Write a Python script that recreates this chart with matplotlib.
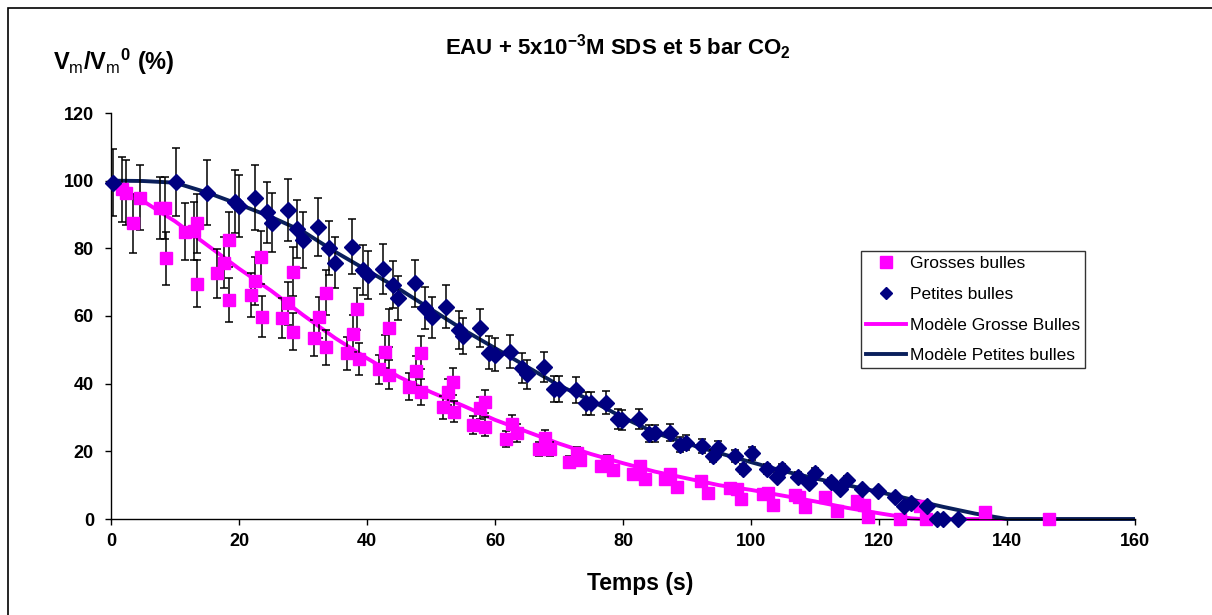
import matplotlib
matplotlib.use("Agg")
import matplotlib.pyplot as plt
from matplotlib.patches import Rectangle
from matplotlib.lines import Line2D
import numpy as np

plt.rcParams['font.family'] = ['Liberation Sans', 'DejaVu Sans']
plt.rcParams['mathtext.fontset'] = 'custom'
plt.rcParams['mathtext.rm'] = 'Liberation Sans'
plt.rcParams['mathtext.bf'] = 'Liberation Sans:bold'
plt.rcParams['mathtext.it'] = 'Liberation Sans:italic'

# ---------------- data ----------------
grosses_t = [1.7, 2.4, 3.5, 4.6, 7.6, 8.4, 8.6, 11.6, 12.9, 13.4, 13.4, 16.6, 17.7, 18.5, 18.5,
             21.8, 22.5, 23.4, 23.6, 26.7, 27.7, 28.5, 28.5, 31.7, 32.5, 33.6, 33.6, 36.8, 37.8,
             38.4, 38.7, 41.8, 42.8, 43.5, 43.5, 46.6, 47.6, 48.5, 48.5, 51.8, 52.7, 53.4, 53.6,
             56.6, 57.7, 58.4, 58.4, 61.7, 62.6, 63.4, 66.8, 67.8, 68.6, 71.6, 72.8, 73.3,
             76.6, 77.5, 78.5, 81.5, 82.7, 83.4, 86.6, 87.3, 88.4, 92.2, 93.3, 96.7, 97.8, 98.5,
             101.9, 102.7, 103.5, 106.8, 107.5, 108.4, 111.6, 113.4, 116.5, 117.6, 118.3,
             123.3, 126.4, 127.4, 136.6, 146.6]
grosses_v = [97.4, 96.5, 87.4, 95.0, 91.8, 91.8, 77.0, 84.9, 85.2, 87.4, 69.5, 72.6, 75.8, 82.6, 64.7,
             66.2, 70.4, 77.3, 59.8, 59.3, 63.7, 73.1, 55.4, 53.4, 59.6, 66.9, 50.7, 49.0, 54.7,
             62.0, 47.2, 44.2, 49.5, 56.4, 42.6, 39.1, 43.8, 49.2, 37.6, 33.0, 37.6, 40.6, 31.7,
             27.8, 32.7, 34.7, 27.3, 23.7, 28.0, 25.4, 20.6, 23.8, 20.6, 16.8, 19.4, 17.4,
             15.6, 17.2, 14.5, 13.4, 15.6, 11.9, 11.8, 13.3, 9.4, 11.2, 7.7, 9.2, 9.0, 6.0,
             7.5, 7.6, 4.1, 7.0, 6.6, 3.4, 6.4, 2.5, 5.4, 4.1, 0.5,
             0.0, 3.7, 0.0, 2.2, 0.0]

petites_t = [0.3, 10.2, 15.0, 19.4, 20.0, 22.5, 24.3, 25.1, 27.7, 29.0, 30.0, 32.4, 34.1, 35.0,
             37.6, 39.3, 40.2, 42.5, 44.1, 44.9, 47.5, 49.0, 50.1, 52.4, 54.3, 55.0, 57.7, 59.0,
             60.0, 62.4, 64.2, 65.0, 67.7, 69.2, 70.0, 72.7, 74.2, 75.0, 77.3, 79.2, 79.9, 82.5,
             84.0, 85.0, 87.3, 88.9, 89.8, 92.4, 94.1, 94.9, 97.5, 98.8, 100.1, 102.5, 104.0,
             104.8, 107.4, 109.1, 110.0, 112.5, 113.9, 115.0, 117.3, 119.9, 122.5, 123.9, 125.0,
             127.5, 129.0, 130.0, 132.4]
petites_v = [99.4, 99.6, 96.5, 93.8, 92.5, 95.0, 90.6, 87.6, 91.4, 85.8, 82.5, 86.3, 80.0, 75.8,
             80.5, 73.6, 72.1, 74.0, 69.3, 65.2, 69.7, 62.3, 59.6, 62.8, 55.9, 54.1, 56.4, 49.1,
             48.5, 49.5, 44.5, 42.8, 45.0, 38.3, 38.3, 38.1, 34.2, 34.2, 34.4, 29.5, 29.2, 29.5,
             25.2, 25.3, 25.5, 21.9, 22.6, 21.6, 18.6, 20.9, 18.6, 14.7, 19.4, 14.9, 12.5,
             14.7, 12.5, 10.7, 13.7, 11.0, 8.8, 11.5, 8.8, 8.4, 6.4, 3.8, 4.8,
             3.8, 0.0, 0.0, 0.0]

modele_g_t = [1.0, 5, 10, 15, 20, 25, 30, 35, 40, 45, 50, 55, 60, 65, 70, 75, 80, 85, 90, 95,
              100, 105, 110, 115, 120, 125, 126.5, 140]
modele_g_v = [98.5, 94.0, 88.0, 81.0, 74.0, 67.5, 60.3, 53.5, 47.5, 42.0, 37.5, 33.5, 29.3, 25.8,
              22.3, 19.2, 16.5, 14.0, 12.0, 10.0, 8.6, 6.9, 5.2, 3.3, 1.7, 0.2, 0.0, 0.0]

modele_p_t = [0, 5, 10, 15, 20, 25, 30, 35, 40, 45, 50, 55, 60, 65, 70, 75, 80, 85, 90, 95, 100,
              105, 110, 115, 120, 125, 130, 135, 140, 160]
modele_p_v = [100.0, 99.9, 99.4, 96.5, 93.0, 89.3, 85.0, 79.0, 73.5, 68.0, 62.0, 56.0, 50.5, 45.0,
              39.5, 35.0, 30.0, 25.5, 22.3, 19.5, 16.8, 14.2, 12.0, 10.0, 8.0, 5.8, 3.6, 1.6, 0.0, 0.0]

ERR_PCT = 10  # percentage error bars (chart setting)

x_ticks = list(range(0, 161, 20))
y_ticks = list(range(0, 121, 20))
legend_labels = ['Grosses bulles', 'Petites bulles', 'Modèle Grosse Bulles', 'Modèle Petites bulles']

MAGENTA = '#FF00FF'
NAVY_PT = '#000080'
NAVY_LN = '#0A1F5C'

# ---------------- figure ----------------
W, H = 1212, 615
fig = plt.figure(figsize=(W / 100, H / 100), dpi=100)
ax = fig.add_axes([111 / W, 1 - 519 / H, 1024 / W, 406 / H])

gt = np.array(grosses_t); gv = np.array(grosses_v)
pt = np.array(petites_t); pv = np.array(petites_v)

ax.plot(modele_g_t, modele_g_v, color=MAGENTA, lw=2.8, zorder=2, clip_on=False,
        solid_capstyle='butt')
ax.plot(modele_p_t, modele_p_v, color=NAVY_LN, lw=2.8, zorder=2, clip_on=False,
        solid_capstyle='butt')

ax.errorbar(gt, gv, yerr=gv * ERR_PCT / 100, fmt='none', ecolor='black', elinewidth=1.1,
            capsize=3, capthick=1.1, zorder=3)
ax.errorbar(pt, pv, yerr=pv * ERR_PCT / 100, fmt='none', ecolor='black', elinewidth=1.1,
            capsize=3, capthick=1.1, zorder=3)

ax.plot(gt, gv, 's', color=MAGENTA, ms=8.8, mec=MAGENTA, zorder=4, clip_on=False)
ax.plot(pt, pv, 'D', color=NAVY_PT, ms=7.8, mec=NAVY_PT, zorder=5, clip_on=False)

ax.set_xlim(0, 160)
ax.set_ylim(0, 120)
ax.set_xticks(x_ticks)
ax.set_yticks(y_ticks)
ax.set_xticklabels([str(v) for v in x_ticks])
ax.set_yticklabels([str(v) for v in y_ticks])
for s in ['top', 'right']:
    ax.spines[s].set_visible(False)
for s in ['left', 'bottom']:
    ax.spines[s].set_linewidth(1.0)
ax.tick_params(direction='out', length=4.3, width=1.0, labelsize=13)
ax.tick_params(axis='x', pad=6)
ax.tick_params(axis='y', pad=8)
for lab in ax.get_xticklabels() + ax.get_yticklabels():
    lab.set_fontweight('bold')

# legend
handles = [Line2D([], [], ls='none', marker='s', color=MAGENTA, ms=8.5),
           Line2D([], [], ls='none', marker='D', color=NAVY_PT, ms=6.5),
           Line2D([], [], color=MAGENTA, lw=2.8),
           Line2D([], [], color=NAVY_LN, lw=2.8)]
leg = ax.legend(handles, legend_labels, loc='upper left', bbox_to_anchor=(0.7324, 0.660),
                fontsize=12.5, frameon=True, fancybox=False, edgecolor='black',
                handlelength=2.3, handletextpad=0.25, labelspacing=0.9, borderpad=0.28,
                borderaxespad=0)
leg.get_frame().set_linewidth(1.0)

# texts
fig.text(618 / W, 1 - 55 / H, 'EAU + 5x10$^{\\mathbf{-3}}$M SDS et 5 bar CO$_{\\mathbf{2}}$',
         ha='center', va='baseline', fontsize=16, fontweight='bold')
fig.text(53 / W, 1 - 70 / H, 'V$_{\\mathrm{m}}$/V$_{\\mathrm{m}}$$^{\\mathbf{0}}$ (%)',
         ha='left', va='baseline', fontsize=17, fontweight='bold')
fig.text(640 / W, 1 - 590 / H, 'Temps (s)', ha='center', va='baseline',
         fontsize=16.5, fontweight='bold')

# outer border
fig.patches.append(Rectangle((8 / W, -0.05), 1.1, 1 - 8 / H + 0.05, transform=fig.transFigure,
                             fill=False, edgecolor='black', lw=1.2))

fig.savefig('out.png', dpi=100)
